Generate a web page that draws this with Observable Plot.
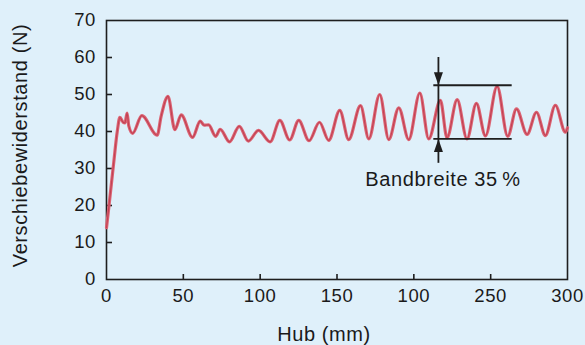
<!DOCTYPE html>
<html>
<head>
<meta charset="utf-8">
<script src="https://cdn.jsdelivr.net/npm/d3@7"></script>
<script src="https://cdn.jsdelivr.net/npm/@observablehq/plot@0.6"></script>
<style>
  html, body { margin: 0; padding: 0; background: #dff0fa; }
  #chart svg { display: block; }
</style>
</head>
<body>
<div id="chart"></div>
<script>
// Curve samples (Hub in mm, force in N)
const hub = [0, 1.5, 4.8, 7, 8.7, 10.8, 12, 13.4, 14.5, 17, 23, 33, 35.5, 40, 44.5, 48.6, 56, 61, 63.5, 66.5, 71, 74, 80, 86.4, 92.3, 98.9, 106.5, 112.8, 119.2, 125.1, 131.8, 138.6, 144.6, 151.8, 157.6, 165.3, 170.7, 177.8, 183.7, 190.2, 196.7, 203.9, 209.7, 217.3, 221.6, 228.2, 234.6, 240.7, 246.6, 254.2, 261.1, 266.8, 273.7, 279.8, 285.6, 292.1, 298.6, 300];
const force = [14, 19.5, 32, 40, 43.8, 42.5, 42.3, 45, 41.5, 39.5, 44.3, 39, 44, 49.5, 40.5, 44.5, 38.4, 42.8, 41.7, 41.8, 38.7, 40.6, 37.2, 41.4, 37.4, 40.3, 37.2, 43, 37.7, 43, 37.5, 42.5, 37.6, 45.7, 37.8, 47, 38, 50, 37.8, 46.4, 37.8, 50.4, 38, 48.4, 38.3, 48.6, 38, 47.6, 38.8, 52.2, 38.7, 46.1, 39.2, 45.2, 38.9, 47.1, 39.8, 41];

// Axis ticks and labels (the original labels 200 as "100")
const xTicks = [0, 50, 100, 150, 200, 250, 300];
const xTickLabels = ["0", "50", "100", "150", "100", "250", "300"];
const xInnerTicks = [50, 100, 150, 200, 250];
const yTicks = [0, 10, 20, 30, 40, 50, 60, 70];
const yInnerTicks = [10, 20, 30, 40, 50, 60];
const xLabel = "Hub (mm)";
const yLabel = "Verschiebewiderstand (N)";

// Bandwidth annotation
const bandX = 216;
const bandLineX1 = 213;
const bandLineX2 = 264;
const bandTop = 52.5;
const bandBottom = 38;
const arrowTopStart = 60;
const arrowBottomStart = 31.4;
const bandText = "Bandbreite 35\u202F%";
const bandTextX = 219;
const bandTextY = 25.4;

const data = hub.map((h, i) => ({hub: h, force: force[i]}));

// slender filled arrowhead, tip at origin pointing up
const arrowHead = {
  draw(context, size) {
    context.moveTo(0, 0);
    context.lineTo(4.5, 13);
    context.lineTo(-4.5, 13);
    context.closePath();
  }
};

const font = "'Liberation Sans', Arial, Helvetica, sans-serif";
const ink = "#1e1e1e";

const chart = Plot.plot({
  width: 585,
  height: 345,
  marginLeft: 106,
  marginRight: 18,
  marginTop: 20,
  marginBottom: 66,
  style: {background: "#dff0fa", fontFamily: font, color: "#1a1a1a", letterSpacing: "0.6px"},
  x: {domain: [0, 300]},
  y: {domain: [0, 70]},
  marks: [
    Plot.frame({stroke: ink, strokeWidth: 1.6}),
    // inward ticks (shifted into the frame)
    Plot.axisX({ticks: xInnerTicks, tickSize: 5, dy: -5, tickFormat: () => "", label: null, stroke: ink, strokeWidth: 1.6}),
    Plot.axisY({ticks: yInnerTicks, tickSize: 6, dx: 6, tickFormat: () => "", label: null, stroke: ink, strokeWidth: 1.6}),
    // tick labels
    Plot.axisX({ticks: xTicks, tickFormat: d => xTickLabels[xTicks.indexOf(d)], tickSize: 0, tickPadding: 9, fontSize: 18.5, label: null}),
    Plot.axisY({ticks: yTicks, tickSize: 0, tickPadding: 10.5, fontSize: 18.5, label: null}),
    Plot.line(data, {x: "hub", y: "force", stroke: "#dc6473", strokeWidth: 3.2, curve: "monotone-x"}),
    Plot.line(data, {x: "hub", y: "force", stroke: "#b8364a", strokeWidth: 1.1, strokeOpacity: 0.75, curve: "monotone-x"}),
    Plot.ruleY([bandTop, bandBottom], {x1: bandLineX1, x2: bandLineX2, stroke: ink, strokeWidth: 1.8}),
    Plot.ruleX([bandX], {y1: arrowBottomStart, y2: arrowTopStart, stroke: ink, strokeWidth: 1.8}),
    Plot.dot([{x: bandX, y: bandTop, r: 180}, {x: bandX, y: bandBottom, r: 0}], {x: "x", y: "y", rotate: "r", symbol: arrowHead, fill: ink, stroke: "none", r: 5}),
    Plot.text([bandText], {x: bandTextX, y: bandTextY, text: d => d, fontSize: 20, lineAnchor: "bottom", textAnchor: "middle", fill: "#1a1a1a"}),
    Plot.text([xLabel], {frameAnchor: "bottom", text: d => d, dx: -13, dy: 61, lineAnchor: "bottom", textAnchor: "middle", fontSize: 20, fill: "#1a1a1a"}),
    Plot.text([yLabel], {frameAnchor: "left", text: d => d, dx: -86, dy: -4.5, rotate: -90, lineAnchor: "middle", textAnchor: "middle", fontSize: 20, fill: "#1a1a1a"})
  ]
});

document.getElementById("chart").appendChild(chart);
</script>
</body>
</html>
